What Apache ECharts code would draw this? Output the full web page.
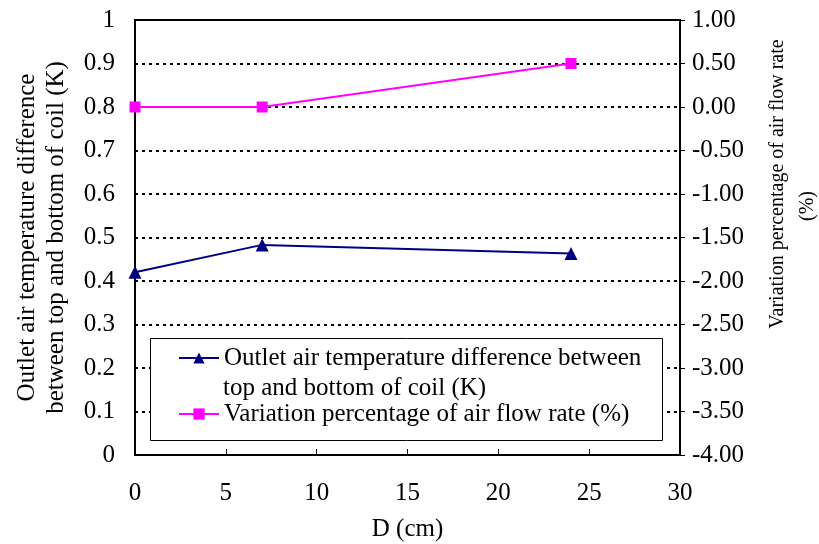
<!DOCTYPE html>
<html>
<head>
<meta charset="utf-8">
<script src="https://cdn.jsdelivr.net/npm/echarts@6/dist/echarts.min.js"></script>
<style>
  html, body { margin: 0; padding: 0; background: #fff; }
  #chart { width: 819px; height: 544px; }
</style>
</head>
<body>
<div id="chart"></div>
<script>
let chart = echarts.init(document.querySelector('#chart'));

// data
let distance = [0, 7, 24];
let tempDiff = [0.42, 0.483, 0.463];
let flowVariation = [0.0, 0.0, 0.5];
let tempName = 'Outlet air temperature difference between top and bottom of coil (K)';
let flowName = 'Variation percentage of air flow rate (%)';

let font = 'Liberation Serif';
let fs = 25;

let option = {
  animation: false,
  textStyle: { fontFamily: font, color: '#000' },
  grid: {
    left: 135, right: 139, top: 20, bottom: 89,
    outerBoundsMode: 'none',
    show: true, borderColor: '#000', borderWidth: 2
  },
  graphic: [
    // legend frame
    {
      type: 'rect', z: 3,
      shape: { x: 150.5, y: 338.5, width: 512, height: 102 },
      style: { fill: '#fff', stroke: '#000', lineWidth: 1 }
    },
    // second line of the first legend entry
    {
      type: 'text', x: 223, y: 388, z: 5,
      style: { text: 'top and bottom of coil (K)', font: fs + 'px "Liberation Serif"',
        fill: '#000', align: 'left', verticalAlign: 'middle' }
    },
    // right axis title
    {
      type: 'text', x: 778, y: 184, rotation: Math.PI / 2, z: 3,
      style: { text: 'Variation percentage of air flow rate', font: '20px "Liberation Serif"',
        fill: '#000', align: 'center', verticalAlign: 'middle' }
    },
    {
      type: 'text', x: 808, y: 206, rotation: Math.PI / 2, z: 3,
      style: { text: '(%)', font: '20px "Liberation Serif"',
        fill: '#000', align: 'center', verticalAlign: 'middle' }
    }
  ],
  legend: {
    orient: 'vertical',
    left: 178, top: 344, z: 5,
    padding: 0,
    itemWidth: 40, itemHeight: 14, itemGap: 28,
    textStyle: { fontFamily: font, fontSize: fs, color: '#000', lineHeight: 28 },
    formatter: name => name === tempName ? 'Outlet air temperature difference between' : name,
    data: [tempName, flowName]
  },
  xAxis: {
    type: 'value', min: 0, max: 30, interval: 5,
    name: 'D (cm)', nameLocation: 'middle', nameGap: 62,
    nameTextStyle: { fontSize: fs, fontFamily: font, color: '#000' },
    axisLine: { lineStyle: { color: '#000', width: 2 } },
    axisTick: { inside: true, length: 6, lineStyle: { color: '#000', width: 1 } },
    axisLabel: { fontSize: fs, margin: 26, color: '#000', fontFamily: font },
    splitLine: { show: false }
  },
  yAxis: [
    {
      type: 'value', min: 0, max: 1, interval: 0.1,
      name: 'Outlet air temperature difference\nbetween top and bottom of coil (K)',
      nameLocation: 'middle', nameGap: 64, nameRotate: 90,
      nameTextStyle: { fontSize: fs, fontFamily: font, color: '#000', lineHeight: 29 },
      axisLine: { lineStyle: { color: '#000', width: 2 } },
      axisTick: { show: false },
      axisLabel: { fontSize: fs, margin: 20, color: '#000', fontFamily: font,
        formatter: v => +v.toFixed(1) + '' },
      splitLine: { show: true, lineStyle: { color: '#000', type: [3, 4], width: 2 } }
    },
    {
      type: 'value', min: -4, max: 1, interval: 0.5,
      axisLine: { lineStyle: { color: '#000', width: 2 } },
      axisTick: { show: true, length: 5, lineStyle: { color: '#000', width: 1 } },
      axisLabel: { fontSize: fs, margin: 12, color: '#000', fontFamily: font,
        formatter: v => v.toFixed(2) },
      splitLine: { show: false }
    }
  ],
  series: [
    {
      name: tempName, type: 'line', yAxisIndex: 0,
      data: distance.map((d, i) => [d, tempDiff[i]]),
      symbol: 'triangle', symbolSize: 13,
      lineStyle: { color: '#000080', width: 2 },
      itemStyle: { color: '#000080' }
    },
    {
      name: flowName, type: 'line', yAxisIndex: 1,
      data: distance.map((d, i) => [d, flowVariation[i]]),
      symbol: 'rect', symbolSize: 11,
      lineStyle: { color: '#ff00ff', width: 2 },
      itemStyle: { color: '#ff00ff' }
    }
  ]
};
chart.setOption(option);
</script>
</body>
</html>
